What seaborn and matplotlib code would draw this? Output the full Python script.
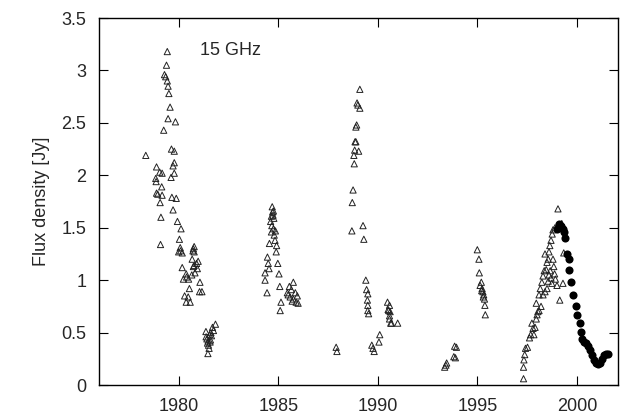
import matplotlib
matplotlib.use("Agg")
import matplotlib.pyplot as plt
import seaborn as sns
import numpy as np
import pandas as pd

# 15 GHz light curve, open triangles (single-dish monitoring)
tri_year = [
    # 1978-1981
    1978.35, 1978.89, 1978.85, 1978.87, 1979.05, 1979.17, 1978.89, 1978.95, 1979.15, 1979.17,
    1979.07, 1979.11, 1979.09, 1979.43, 1979.39, 1979.29, 1979.35, 1979.43, 1979.47, 1979.51,
    1979.57, 1979.47, 1979.25, 1979.84, 1979.64, 1979.78, 1979.78, 1979.72, 1979.78, 1979.62,
    1979.66, 1979.88, 1979.72, 1979.94, 1980.12, 1980.04, 1980.08, 1980.10, 1980.18, 1980.00,
    1980.18, 1980.24, 1980.38, 1980.30, 1980.38, 1980.58, 1980.48, 1980.54, 1980.66, 1980.40,
    1980.50, 1980.74, 1980.78, 1980.78, 1980.72, 1980.68, 1980.78, 1980.82, 1980.74, 1980.90,
    1980.98, 1981.07, 1981.05, 1981.17, 1980.94,
    # 1981.5
    1981.37, 1981.42, 1981.47, 1981.53, 1981.60, 1981.65, 1981.75, 1981.85, 1981.38, 1981.45,
    1981.50, 1981.55, 1981.62, 1981.70, 1981.58, 1981.48,
    # 1984-1986
    1984.34, 1984.34, 1984.44, 1984.46, 1984.50, 1984.54, 1984.56, 1984.66, 1984.70, 1984.72,
    1984.74, 1984.78, 1984.62, 1984.68, 1984.76, 1984.84, 1984.92, 1984.90, 1984.98, 1985.04,
    1985.08, 1985.14, 1985.10, 1985.56, 1985.76, 1985.46, 1985.66, 1985.86, 1985.96, 1986.00,
    1985.76, 1985.60, 1985.70, 1985.90, 1985.50, 1984.80, 1984.86, 1984.66, 1984.76,
    # 1988-1991
    1987.91, 1987.95, 1988.70, 1988.72, 1988.76, 1988.82, 1988.80, 1988.84, 1988.86, 1988.90,
    1988.90, 1988.94, 1988.96, 1989.00, 1989.10, 1989.10, 1989.04, 1989.26, 1989.30, 1989.40,
    1989.44, 1989.50, 1989.48, 1989.50, 1989.50, 1989.54, 1989.70, 1989.76, 1989.82, 1990.06,
    1990.10, 1990.49, 1990.59, 1990.55, 1990.59, 1990.59, 1990.65, 1990.69, 1991.00, 1990.52,
    1990.62,
    # 1993-1994
    1993.36, 1993.42, 1993.46, 1993.82, 1993.86, 1993.90, 1993.95,
    # 1995
    1995.00, 1995.08, 1995.10, 1995.14, 1995.20, 1995.24, 1995.28, 1995.32, 1995.36, 1995.38,
    1995.40, 1995.22, 1995.30,
    # 1997-1999
    1997.32, 1997.32, 1997.34, 1997.38, 1997.42, 1997.52, 1997.62, 1997.68, 1997.74, 1997.80,
    1997.84, 1997.90, 1997.96, 1998.00, 1998.04, 1998.10, 1998.20, 1997.96, 1998.10, 1998.16,
    1998.24, 1998.30, 1998.36, 1998.40, 1998.50, 1998.56, 1998.60, 1998.64, 1998.70, 1998.76,
    1998.80, 1998.80, 1998.84, 1998.88, 1998.92, 1999.00, 1998.40, 1998.50, 1998.30, 1998.56,
    1998.70, 1998.66, 1999.05, 1999.14, 1999.24, 1999.34, 1998.74, 1998.90, 1998.60, 1998.46,
    1999.30,
]
tri_flux = [
    2.19, 2.08, 1.97, 1.94, 2.03, 2.02, 1.83, 1.82, 1.89, 1.81,
    1.74, 1.60, 1.34, 3.18, 3.05, 2.96, 2.94, 2.90, 2.85, 2.78,
    2.65, 2.54, 2.43, 2.51, 2.25, 2.23, 2.12, 2.09, 2.02, 1.98,
    1.79, 1.78, 1.67, 1.56, 1.49, 1.39, 1.31, 1.28, 1.26, 1.27,
    1.12, 1.01, 1.06, 0.85, 0.79, 0.79, 0.84, 0.92, 1.05, 1.03,
    1.01, 1.30, 1.32, 1.27, 1.28, 1.20, 1.14, 1.07, 1.13, 1.16,
    1.18, 0.98, 0.89, 0.89, 1.11,
    0.51, 0.44, 0.30, 0.35, 0.43, 0.47, 0.52, 0.58, 0.46, 0.40,
    0.38, 0.48, 0.50, 0.55, 0.41, 0.42,
    1.07, 1.00, 0.88, 1.22, 1.16, 1.11, 1.35, 1.46, 1.70, 1.65,
    1.62, 1.59, 1.56, 1.52, 1.49, 1.38, 1.33, 1.27, 1.16, 1.06,
    0.94, 0.79, 0.71, 0.94, 0.98, 0.88, 0.91, 0.88, 0.85, 0.78,
    0.82, 0.84, 0.80, 0.79, 0.86, 1.43, 1.47, 1.61, 1.66,
    0.36, 0.32, 1.47, 1.74, 1.86, 2.11, 2.19, 2.24, 2.32, 2.32,
    2.46, 2.48, 2.69, 2.67, 2.64, 2.82, 2.23, 1.52, 1.39, 1.00,
    0.91, 0.87, 0.81, 0.76, 0.71, 0.68, 0.38, 0.35, 0.32, 0.41,
    0.48, 0.79, 0.76, 0.71, 0.66, 0.63, 0.59, 0.59, 0.59, 0.72,
    0.70,
    0.17, 0.19, 0.21, 0.27, 0.37, 0.26, 0.36,
    1.29, 1.20, 1.07, 0.95, 0.98, 0.92, 0.89, 0.86, 0.82, 0.76,
    0.67, 0.90, 0.84,
    0.06, 0.17, 0.24, 0.29, 0.35, 0.36, 0.45, 0.48, 0.59, 0.54,
    0.48, 0.55, 0.63, 0.67, 0.70, 0.71, 0.75, 0.78, 0.86, 0.92,
    0.98, 1.04, 1.09, 1.25, 1.17, 1.20, 1.27, 1.33, 1.38, 1.44,
    1.48, 1.20, 1.13, 1.06, 1.01, 0.95, 0.89, 0.92, 0.86, 0.99,
    1.02, 1.09, 1.68, 0.81, 1.54, 1.26, 0.97, 1.50, 1.05, 1.10,
    0.97,
]

# filled circles (recent monitoring, 1999-2001)
dot_year = [
    1999.00, 1999.08, 1999.18, 1999.28, 1999.34, 1999.38, 1999.48, 1999.58, 1999.62, 1999.70,
    1999.82, 1999.94, 2000.02, 2000.14, 2000.22, 2000.28, 2000.38, 2000.48, 2000.58, 2000.68,
    2000.78, 2000.88, 2000.98, 2001.08, 2001.18, 2001.28, 2001.38, 2001.46, 2001.55,
]
dot_flux = [
    1.49, 1.54, 1.52, 1.49, 1.46, 1.40, 1.25, 1.20, 1.10, 0.98,
    0.86, 0.75, 0.67, 0.59, 0.51, 0.44, 0.41, 0.40, 0.37, 0.33,
    0.29, 0.24, 0.21, 0.20, 0.21, 0.25, 0.29, 0.30, 0.30,
]

x_ticks = [1980, 1985, 1990, 1995, 2000]
y_ticks = [0, 0.5, 1, 1.5, 2, 2.5, 3, 3.5]
y_tick_labels = ["0", "0.5", "1", "1.5", "2", "2.5", "3", "3.5"]

tri_df = pd.DataFrame({"year": tri_year, "flux": tri_flux})
dot_df = pd.DataFrame({"year": dot_year, "flux": dot_flux})

sns.set_style("ticks")
plt.rcParams["font.family"] = ["Liberation Sans", "DejaVu Sans"]

fig = plt.figure(figsize=(6.21, 4.17), dpi=100)
ax = fig.add_axes([0.1594, 0.0767, 0.8353, 0.8801])

sns.scatterplot(data=tri_df, x="year", y="flux", marker="^", s=20,
                facecolor="none", edgecolor="#222222", linewidth=0.7, ax=ax)
sns.scatterplot(data=dot_df, x="year", y="flux", marker="o", s=34,
                color="black", edgecolor="black", linewidth=0, ax=ax)

ax.set_xlim(1976, 2002.05)
ax.set_ylim(0, 3.5)
ax.set_xticks(x_ticks)
ax.set_yticks(y_ticks)
ax.set_yticklabels(y_tick_labels)
ax.set_xlabel("")
ax.set_ylabel("Flux density [Jy]", fontsize=13, labelpad=8)

for side in ["top", "right", "left", "bottom"]:
    ax.spines[side].set_visible(True)
    ax.spines[side].set_linewidth(1.0)
    ax.spines[side].set_color("black")

ax.tick_params(axis="both", which="major", direction="in", length=6.5, width=0.8,
               labelsize=13, top=True, right=True, color="black")
ax.tick_params(axis="x", pad=9)
ax.tick_params(axis="y", pad=9)

ax.text(1981.05, 3.19, "15 GHz", fontsize=13, va="center", ha="left")

fig.savefig("out.png", dpi=100)
